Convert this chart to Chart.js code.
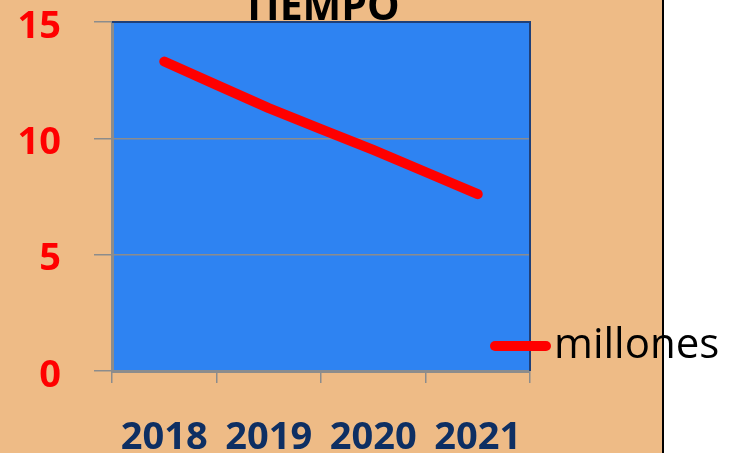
<!DOCTYPE html>
<html>
<head>
<meta charset="utf-8">
<script src="https://cdn.jsdelivr.net/npm/chart.js@4/dist/chart.umd.min.js"></script>
<style>
  html, body { margin: 0; padding: 0; background: #ffffff; }
  #wrap { width: 733px; height: 453px; position: relative; }
  canvas { display: block; }
</style>
</head>
<body>
<div id="wrap"><canvas id="c" width="733" height="453"></canvas></div>
<script>
const titleText = 'TIEMPO';
const categories = ['2018', '2019', '2020', '2021'];
const seriesLabel = 'millones';
const millones = [13.3, 11.3, 9.5, 7.6];
const yMin = 0;
const yMax = 15;
const yStep = 5;

const TAN = '#EEBB86';
const PLOT_BLUE = '#2E83F2';
const NAVY_BORDER = '#1F3F78';
const GRID_GRAY = '#8C8C8C';
const RED = '#FF0000';
const XLABEL = '#0E2F63';

const decorPlugin = {
  id: 'decor',
  beforeDraw(chart) {
    const ctx = chart.ctx;
    const a = chart.chartArea;
    ctx.save();
    ctx.fillStyle = '#ffffff';
    ctx.fillRect(0, 0, chart.width, chart.height);
    ctx.fillStyle = TAN;
    ctx.fillRect(0, 0, 663, chart.height);
    ctx.fillStyle = PLOT_BLUE;
    ctx.fillRect(a.left, a.top, a.right - a.left, a.bottom - a.top);
    // title (partially cut off at the top)
    ctx.fillStyle = '#000000';
    ctx.font = 'bold 41px "Open Sans"';
    ctx.textAlign = 'center';
    ctx.textBaseline = 'alphabetic';
    ctx.fillText(titleText, (a.left + a.right) / 2, 20);
    ctx.restore();
  },
  afterDraw(chart) {
    const ctx = chart.ctx;
    const a = chart.chartArea;
    ctx.save();
    // top & right plot border
    ctx.strokeStyle = NAVY_BORDER;
    ctx.lineWidth = 2;
    ctx.beginPath();
    ctx.moveTo(a.left, a.top);
    ctx.lineTo(a.right, a.top);
    ctx.lineTo(a.right, a.bottom);
    ctx.stroke();
    // legend
    const ds = chart.data.datasets[0];
    ctx.strokeStyle = ds.borderColor;
    ctx.lineWidth = 10;
    ctx.lineCap = 'round';
    ctx.beginPath();
    ctx.moveTo(495, 346);
    ctx.lineTo(546, 346);
    ctx.stroke();
    ctx.fillStyle = '#000000';
    ctx.font = '42px "Open Sans"';
    ctx.textAlign = 'left';
    ctx.textBaseline = 'alphabetic';
    ctx.fillText(ds.label, 554, 358);
    // frame line between tan and white
    ctx.strokeStyle = '#000000';
    ctx.lineWidth = 2;
    ctx.lineCap = 'butt';
    ctx.beginPath();
    ctx.moveTo(663, 0);
    ctx.lineTo(663, chart.height);
    ctx.stroke();
    ctx.restore();
  }
};

new Chart(document.getElementById('c'), {
  type: 'line',
  data: {
    labels: categories,
    datasets: [{
      label: seriesLabel,
      data: millones,
      borderColor: RED,
      backgroundColor: RED,
      borderWidth: 10,
      borderCapStyle: 'round',
      borderJoinStyle: 'round',
      pointRadius: 0,
      pointHoverRadius: 0,
      tension: 0.15,
      fill: false
    }]
  },
  options: {
    responsive: false,
    animation: false,
    devicePixelRatio: 1,
    layout: { padding: { left: 0, top: 22, right: 203, bottom: 0 } },
    plugins: {
      legend: { display: false },
      title: { display: false },
      tooltip: { enabled: false }
    },
    scales: {
      x: {
        type: 'category',
        offset: true,
        afterFit(scale) {
          scale.height = 82;
          scale.paddingLeft = 0; scale.paddingRight = 0;
        },
        grid: {
          offset: true,
          drawOnChartArea: false,
          drawTicks: true,
          tickLength: 12,
          color: GRID_GRAY,
          lineWidth: 1.5
        },
        border: { display: true, color: GRID_GRAY, width: 3 },
        ticks: {
          color: XLABEL,
          padding: 32,
          maxRotation: 0,
          autoSkip: false,
          font: { family: 'Open Sans', weight: 'bold', size: 38 }
        }
      },
      y: {
        min: yMin,
        max: yMax,
        afterFit(scale) {
          scale.width = 112;
          scale.paddingTop = 0; scale.paddingBottom = 0;
        },
        grid: {
          color: GRID_GRAY,
          lineWidth: 1.5,
          drawTicks: true,
          tickLength: 18
        },
        border: { display: true, color: GRID_GRAY, width: 3 },
        ticks: {
          stepSize: yStep,
          color: RED,
          padding: 33,
          labelOffset: 5,
          font: { family: 'Open Sans', weight: 'bold', size: 38 }
        }
      }
    }
  },
  plugins: [decorPlugin]
});
</script>
</body>
</html>
